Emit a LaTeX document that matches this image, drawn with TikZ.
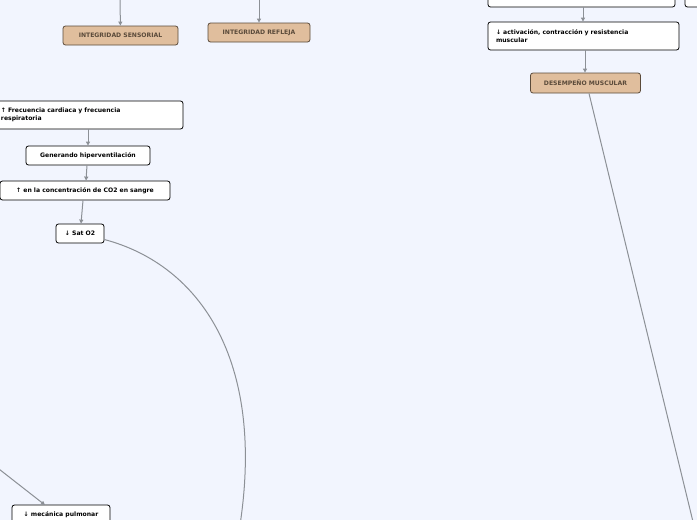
\documentclass[tikz,border=0pt]{standalone}
\usepackage{fontspec}
\setmainfont{DejaVu Sans}
\usetikzlibrary{arrows.meta}
\definecolor{bgblue}{HTML}{F2F5FE}
\definecolor{topicfill}{HTML}{E0BE9D}
\definecolor{topictext}{HTML}{5A4A3A}
\definecolor{linkgray}{HTML}{8C9096}
\tikzset{
  idea/.style={draw=black,fill=white,rounded corners=2.5pt,line width=0.8pt,
    font=\bfseries\fontsize{6.1}{7.6}\selectfont,inner sep=0pt,align=left},
  topic/.style={draw=topictext,fill=topicfill,rounded corners=2.5pt,line width=0.8pt,
    font=\bfseries\fontsize{6.1}{7.6}\selectfont,text=topictext,inner sep=0pt},
  link/.style={draw=linkgray,line width=1pt,-{Triangle[length=4pt,width=4pt]}},
  plain/.style={draw=linkgray,line width=1pt}
}
\begin{document}
\begin{tikzpicture}[x=1pt,y=-1pt]
  \fill[bgblue] (0,0) rectangle (697,520);
  \useasboundingbox (0,0) rectangle (697,520);
  \clip (0,0) rectangle (697,520);

  % left column
  \node[topic,minimum width=115pt,minimum height=19pt] (sens) at (120.5,35.5) {INTEGRIDAD SENSORIAL};
  \node[topic,minimum width=102pt,minimum height=19pt] (refl) at (259,32.5) {INTEGRIDAD REFLEJA};
  \coordinate (sensin) at (120,-5);
  \coordinate (reflin) at (259,-5);
  \draw[link] (sensin) -- (sens);
  \draw[link] (reflin) -- (refl);

  \node[idea,minimum width=196pt,minimum height=28pt,text width=168pt] (frec) at (85,115)
    {↑ Frecuencia cardiaca y frecuencia\\respiratoria};
  \node[idea,minimum width=124pt,minimum height=19pt] (hiper) at (88,155.5) {Generando hiperventilación};
  \node[idea,minimum width=170pt,minimum height=19pt] (co) at (85,190.5) {↑ en la concentración de CO2 en sangre};
  \node[idea,minimum width=48pt,minimum height=19pt] (sat) at (80,233.5) {↓ Sat O2};
  \node[idea,minimum width=98pt,minimum height=20pt] (mec) at (61,515) {↓ mecánica pulmonar};

  \draw[link] (frec.south -| 88,0) -- (hiper.north -| 88,0);
  \draw[link] (hiper.south -| 87,0) -- (co.north -| 86,0);
  \draw[link] (co.south -| 83,0) -- (sat.north -| 81,0);
  \coordinate (satout) at (240,525);
  \draw[plain] (sat.east) ++(0,6) .. controls (200,265) and (265,360) .. (satout);
  \coordinate (mecin) at (-10,462);
  \draw[link] (mecin) -- (45,505);

  % right column
  \node[idea,minimum width=187pt,minimum height=16pt] (prev) at (581.5,-1) {};
  \node[idea,minimum width=30pt,minimum height=16pt] (prevb) at (700,-1) {};
  \node[idea,minimum width=191pt,minimum height=28pt,text width=175pt] (act) at (583.5,36)
    {↓ activación, contracción y resistencia\\muscular};
  \node[topic,minimum width=110pt,minimum height=20pt] (musc) at (585.5,83) {DESEMPEÑO MUSCULAR};
  \draw[link] (prev.south -| 583,0) -- (act.north -| 583,0);
  \draw[link] (act.south -| 585,0) -- (musc.north -| 585,0);
  \coordinate (muscout) at (695,530);
  \draw[plain] (musc.south -| 589,0) -- (muscout);
\end{tikzpicture}
\end{document}
